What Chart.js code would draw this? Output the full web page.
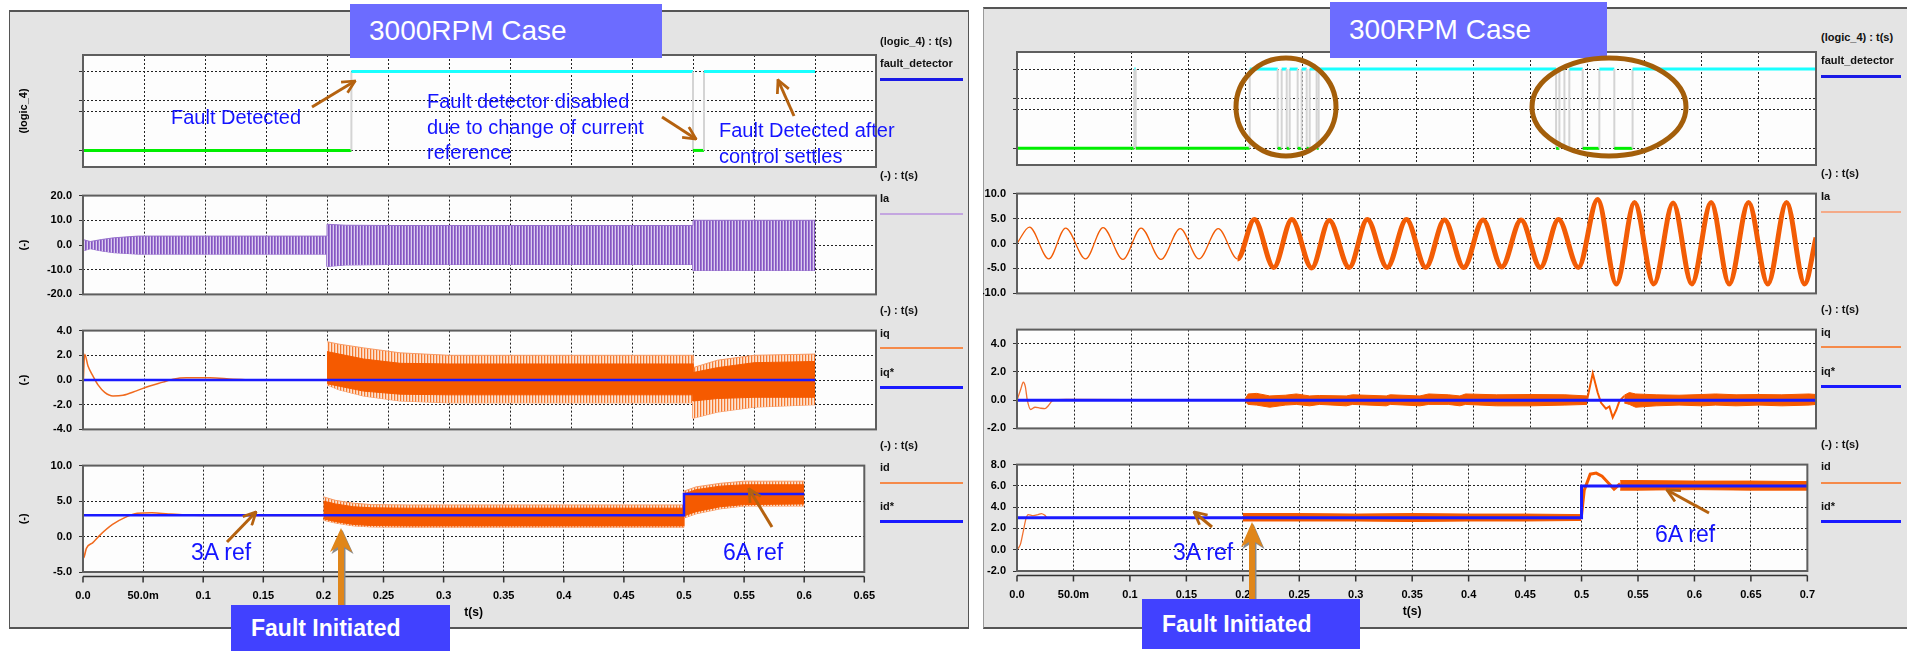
<!DOCTYPE html>
<html>
<head>
<meta charset="utf-8">
<script src="https://cdn.jsdelivr.net/npm/chart.js@4.4.1/dist/chart.umd.min.js"></script>
<style>
  html, body { margin: 0; padding: 0; background: #fff; }
  #stage { position: relative; width: 1907px; height: 651px; overflow: hidden; font-family: "Liberation Sans", Arial, sans-serif; }
  .panel { position: absolute; background: #e4e4e4; box-sizing: border-box; z-index: 0; }
  .lbl { position: absolute; font: bold 11px "Liberation Sans", Arial, sans-serif; color: #111; white-space: nowrap; line-height: 14px; z-index: 3; }
  .key { position: absolute; height: 0; z-index: 3; }
  .title { position: absolute; background: #6c6cff; color: #fff; font: 28px "Liberation Sans", Arial, sans-serif; box-sizing: border-box; display: flex; align-items: center; padding-left: 19px; z-index: 5; }
  .fi { position: absolute; background: #4141ff; color: #fff; font: bold 23px "Liberation Sans", Arial, sans-serif; box-sizing: border-box; display: flex; align-items: center; padding-left: 20px; z-index: 9; }
  #notes { position: absolute; left: 0; top: 0; z-index: 8; }
</style>
</head>
<body>
<div id="stage">
  <!-- khung hai panel -->
  <div class="panel" style="left:9px;top:10px;width:960px;height:619px;border:1px solid #555;border-top-width:2px;border-bottom-width:2px;"></div>
  <div class="panel" style="left:983px;top:7px;width:924px;height:622px;border-top:2px solid #555;border-bottom:2px solid #555;border-left:1px solid #999;"></div>

  <div class="title" style="left:350px;top:4px;width:312px;height:54px;">3000RPM Case</div>
  <div class="title" style="left:1330px;top:2px;width:277px;height:56px;">300RPM Case</div>

  <!-- nhãn bên phải, panel trái -->
  <div class="lbl" style="left:880px;top:34px">(logic_4) : t(s)</div>
  <div class="lbl" style="left:880px;top:56px">fault_detector</div>
  <div class="key" style="left:880px;top:78px;width:83px;border-top:3px solid #1a1ae6"></div>
  <div class="lbl" style="left:880px;top:168px">(-) : t(s)</div>
  <div class="lbl" style="left:880px;top:191px">Ia</div>
  <div class="key" style="left:880px;top:213px;width:83px;border-top:2px solid #c4a6e0"></div>
  <div class="lbl" style="left:880px;top:303px">(-) : t(s)</div>
  <div class="lbl" style="left:880px;top:326px">iq</div>
  <div class="key" style="left:880px;top:347px;width:83px;border-top:2px solid #f58a4a"></div>
  <div class="lbl" style="left:880px;top:365px">iq*</div>
  <div class="key" style="left:880px;top:386px;width:83px;border-top:3px solid #1a1aff"></div>
  <div class="lbl" style="left:880px;top:438px">(-) : t(s)</div>
  <div class="lbl" style="left:880px;top:460px">id</div>
  <div class="key" style="left:880px;top:482px;width:83px;border-top:2px solid #f58a4a"></div>
  <div class="lbl" style="left:880px;top:499px">id*</div>
  <div class="key" style="left:880px;top:520px;width:83px;border-top:3px solid #1a1aff"></div>

  <!-- nhãn bên phải, panel phải -->
  <div class="lbl" style="left:1821px;top:30px">(logic_4) : t(s)</div>
  <div class="lbl" style="left:1821px;top:53px">fault_detector</div>
  <div class="key" style="left:1821px;top:75px;width:80px;border-top:3px solid #1a1ae6"></div>
  <div class="lbl" style="left:1821px;top:166px">(-) : t(s)</div>
  <div class="lbl" style="left:1821px;top:189px">Ia</div>
  <div class="key" style="left:1821px;top:211px;width:80px;border-top:2px solid #f4aa88"></div>
  <div class="lbl" style="left:1821px;top:302px">(-) : t(s)</div>
  <div class="lbl" style="left:1821px;top:325px">iq</div>
  <div class="key" style="left:1821px;top:346px;width:80px;border-top:2px solid #f58a4a"></div>
  <div class="lbl" style="left:1821px;top:364px">iq*</div>
  <div class="key" style="left:1821px;top:385px;width:80px;border-top:3px solid #1a1aff"></div>
  <div class="lbl" style="left:1821px;top:437px">(-) : t(s)</div>
  <div class="lbl" style="left:1821px;top:459px">id</div>
  <div class="key" style="left:1821px;top:482px;width:80px;border-top:2px solid #f58a4a"></div>
  <div class="lbl" style="left:1821px;top:499px">id*</div>
  <div class="key" style="left:1821px;top:520px;width:80px;border-top:3px solid #1a1aff"></div>

  <div class="fi" style="left:231px;top:605px;width:219px;height:46px;">Fault Initiated</div>
  <div class="fi" style="left:1142px;top:599px;width:218px;height:50px;">Fault Initiated</div>

  <!-- chú thích, mũi tên -->
  <svg id="notes" width="1907" height="651" viewBox="0 0 1907 651">
    <defs>
      <marker id="ah" viewBox="0 0 12 12" refX="11" refY="6" markerWidth="15" markerHeight="15" markerUnits="userSpaceOnUse" orient="auto">
        <path d="M1,1 L11,6 L1,11" fill="none" stroke="#b5620f" stroke-width="2.2"/>
      </marker>
    </defs>
    <g fill="#1414ff" font-family="Liberation Sans, Arial, sans-serif" font-size="20">
      <text x="171" y="124">Fault Detected</text>
      <text x="427" y="108">Fault detector disabled</text>
      <text x="427" y="134">due to change of current</text>
      <text x="427" y="159">reference</text>
      <text x="719" y="137">Fault Detected after</text>
      <text x="719" y="163">control settles</text>
      <text x="191" y="560" font-size="23">3A ref</text>
      <text x="723" y="560" font-size="23">6A ref</text>
      <text x="1173" y="560" font-size="23">3A ref</text>
      <text x="1655" y="542" font-size="23">6A ref</text>
    </g>
    <g stroke="#b5620f" stroke-width="3" marker-end="url(#ah)">
      <line x1="312" y1="107" x2="355" y2="81"/>
      <line x1="662" y1="117" x2="696" y2="139"/>
      <line x1="794" y1="116" x2="778" y2="80"/>
      <line x1="227" y1="542" x2="256" y2="512"/>
      <line x1="772" y1="527" x2="749" y2="489"/>
      <line x1="1212" y1="527" x2="1194" y2="512"/>
      <line x1="1709" y1="513" x2="1667" y2="490"/>
    </g>
    <g fill="none" stroke="#a35e0a" stroke-width="5">
      <ellipse cx="1286" cy="107" rx="50" ry="49"/>
      <ellipse cx="1609" cy="107" rx="77" ry="49"/>
    </g>
    <!-- mũi tên Fault Initiated -->
    <polygon points="342.5,530 353.5,554 345.5,549 345.5,605 339.5,605 339.5,549 331.5,554" fill="#8a8a8a"/>
    <polygon points="341,528 352,552 344,547 344,605 338,605 338,547 330,552" fill="#e0861a"/>
    <polygon points="1253.5,524 1264.5,549 1256.5,544 1256.5,599 1250.5,599 1250.5,544 1242.5,549" fill="#8a8a8a"/>
    <polygon points="1252,522 1263,547 1255,542 1255,599 1249,599 1249,542 1241,547" fill="#e0861a"/>
  </svg>
</div>

<script>
// ===== DỮ LIỆU =====
const xTicks3000 = [0, 0.05, 0.1, 0.15, 0.2, 0.25, 0.3, 0.35, 0.4, 0.45, 0.5, 0.55, 0.6, 0.65];
const xLabels3000 = ['0.0', '50.0m', '0.1', '0.15', '0.2', '0.25', '0.3', '0.35', '0.4', '0.45', '0.5', '0.55', '0.6', '0.65'];
const xTicks300 = [0, 0.05, 0.1, 0.15, 0.2, 0.25, 0.3, 0.35, 0.4, 0.45, 0.5, 0.55, 0.6, 0.65, 0.7];
const xLabels300 = ['0.0', '50.0m', '0.1', '0.15', '0.2', '0.25', '0.3', '0.35', '0.4', '0.45', '0.5', '0.55', '0.6', '0.65', '0.7'];

const logicTicks = [0, 0.49, 0.63, 1];
const yTicksIa3000 = [-20, -10, 0, 10, 20];
const yTicksIq3000 = [-4, -2, 0, 2, 4];
const yTicksId3000 = [-5, 0, 5, 10];
const yTicksIa300 = [-10, -5, 0, 5, 10];
const yTicksIq300 = [-2, 0, 2, 4];
const yTicksId300 = [-2, 0, 2, 4, 6, 8];

// fault_detector: thời điểm đổi trạng thái (bắt đầu ở 0)
const fdSwitch3000 = [0.22, 0.5, 0.509];
const fdEnd3000 = 0.6;
const fdSwitch300 = [0.1028, 0.1040, 0.2039, 0.2284, 0.2319, 0.2363, 0.2389, 0.2459, 0.2494, 0.2538, 0.2564,
  0.2625, 0.2643, 0.4723, 0.4752, 0.4796, 0.4839, 0.4956, 0.5102, 0.5233, 0.5393];
const fdEnd300 = 0.7;

// --- 3000RPM ---
// Ia: đường bao trên / dưới
const ia3000T  = [0, 0.006, 0.015, 0.025, 0.045, 0.2, 0.2, 0.215, 0.25, 0.5, 0.5, 0.6];
const ia3000Hi = [2.2, 1.4, 2.2, 2.9, 3.6, 3.6, 8.4, 8.0, 7.9, 7.9, 10.0, 10.0];
const ia3000Lo = [-2.4, -1.5, -2.4, -3.1, -3.7, -3.7, -8.7, -8.1, -7.9, -7.9, -10.3, -10.3];

// iq trước sự cố
const iq3000T = [0, 0.0014, 0.0041, 0.0082, 0.0123, 0.0178, 0.0246, 0.0328, 0.0438, 0.0547, 0.0656, 0.0738, 0.0848, 0.104, 0.123, 0.145, 0.2];
const iq3000V = [-0.76, 2.09, 1.14, 0.31, -0.40, -1.0, -1.29, -1.24, -0.88, -0.48, -0.17, 0.07, 0.19, 0.19, 0.07, 0.0, 0.0];
// iq sau sự cố: dải dao động
const iq3000BandT  = [0.2, 0.21, 0.23, 0.26, 0.3, 0.5, 0.5, 0.52, 0.55, 0.6];
const iq3000OutHi  = [3.1, 2.9, 2.6, 2.2, 2.0, 2.0, 1.0, 1.6, 2.0, 2.1];
const iq3000OutLo  = [-0.4, -0.8, -1.3, -1.7, -1.85, -1.85, -3.1, -2.6, -2.2, -2.0];
const iq3000CoreHi = [2.3, 2.1, 1.7, 1.35, 1.3, 1.3, 0.6, 1.0, 1.4, 1.5];
const iq3000CoreLo = [-0.3, -0.5, -0.9, -1.15, -1.2, -1.2, -1.7, -1.5, -1.4, -1.4];
const iqRef3000T = [0, 0.6];
const iqRef3000V = [0, 0];

// id
const id3000T = [0, 0.0006, 0.0028, 0.0082, 0.0137, 0.0246, 0.0356, 0.0451, 0.0574, 0.0711, 0.0848, 0.12, 0.2];
const id3000V = [-0.1, -3.0, -1.67, -0.86, 0.13, 1.7, 2.73, 3.27, 3.36, 3.18, 3.04, 2.95, 2.95];
const id3000BandT  = [0.2, 0.21, 0.225, 0.24, 0.27, 0.5, 0.5, 0.51, 0.53, 0.55, 0.6];
const id3000OutHi  = [5.6, 5.1, 4.7, 4.5, 4.45, 4.45, 6.4, 7.0, 7.5, 7.8, 7.8];
const id3000OutLo  = [2.3, 1.9, 1.5, 1.35, 1.3, 1.3, 2.6, 3.2, 3.9, 4.3, 4.3];
const id3000CoreHi = [5.0, 4.6, 4.2, 4.05, 4.0, 4.0, 6.0, 6.6, 7.1, 7.3, 7.3];
const id3000CoreLo = [2.5, 2.1, 1.7, 1.55, 1.5, 1.5, 2.9, 3.5, 4.2, 4.5, 4.6];
const idRef3000T = [0, 0.5, 0.5, 0.6];
const idRef3000V = [3, 3, 6, 6];

// --- 300RPM ---
// Ia: các đỉnh / đáy của sóng sin
const ia300T = [0, 0.0109, 0.0278, 0.0426, 0.0601, 0.0754, 0.0928, 0.1087, 0.1261, 0.1430, 0.1594, 0.1763, 0.1932,
  0.2080, 0.2249, 0.2408, 0.2582, 0.2736, 0.2910, 0.3069, 0.3243, 0.3412, 0.3581, 0.3745, 0.3914, 0.4083, 0.4247,
  0.4416, 0.4585, 0.4744, 0.4918, 0.5087, 0.5251, 0.5410, 0.5579, 0.5748, 0.5912, 0.6081, 0.6240, 0.6409, 0.6578,
  0.6742, 0.6900, 0.7];
const ia300V = [0, 3.3, -3.1, 3.1, -3.1, 3.2, -3.2, 3.1, -3.2, 3.0, -3.1, 3.0, -3.1,
  4.8, -4.8, 4.8, -4.9, 4.6, -4.8, 4.8, -4.8, 4.8, -4.8, 4.7, -4.8, 4.7, -4.7,
  4.7, -4.8, 4.8, -4.8, 8.8, -8.1, 8.2, -8.1, 8.1, -8.1, 8.2, -8.1, 8.2, -8.1,
  8.2, -8.1, 1.2];

// iq
const iq300T = [0, 0.0032, 0.0055, 0.0073, 0.009, 0.012, 0.0158, 0.0201, 0.0245, 0.0274, 0.0312, 0.043, 0.2];
const iq300V = [0, 0.75, 1.27, 0.96, 0.02, -0.66, -0.5, -0.56, -0.6, -0.39, -0.04, 0.05, 0.0];
const iq300BandT1 = [0.2, 0.2025, 0.21, 0.2214, 0.235, 0.2447, 0.2564, 0.265, 0.2885, 0.294, 0.3235, 0.327, 0.353, 0.3607, 0.378, 0.388, 0.393, 0.42, 0.45, 0.48, 0.4994];
const iq300Hi1 = [0.1, 0.44, 0.48, 0.3, 0.35, 0.44, 0.3, 0.33, 0.3, 0.38, 0.3, 0.38, 0.3, 0.44, 0.38, 0.3, 0.44, 0.38, 0.4, 0.38, 0.3];
const iq300Lo1 = [-0.1, -0.3, -0.35, -0.5, -0.35, -0.3, -0.4, -0.3, -0.4, -0.3, -0.4, -0.3, -0.4, -0.3, -0.3, -0.4, -0.3, -0.4, -0.4, -0.35, -0.3];
const iq300SpikeT = [0.4994, 0.5044, 0.5087, 0.5117, 0.516, 0.519, 0.5219, 0.525, 0.5277, 0.532];
const iq300SpikeV = [0.0, 1.9, 0.54, -0.19, -0.6, -0.45, -1.23, -0.7, -0.08, 0.3];
const iq300BandT2 = [0.532, 0.5365, 0.542, 0.56, 0.58, 0.6, 0.612, 0.63, 0.65, 0.67, 0.694, 0.7];
const iq300Hi2 = [0.35, 0.54, 0.44, 0.38, 0.35, 0.4, 0.44, 0.38, 0.4, 0.38, 0.44, 0.4];
const iq300Lo2 = [-0.2, -0.3, -0.5, -0.4, -0.35, -0.4, -0.35, -0.4, -0.35, -0.4, -0.35, -0.3];
const iqRef300T = [0, 0.7];
const iqRef300V = [0, 0];

// id
const id300T = [0, 0.003, 0.0055, 0.0079, 0.0099, 0.0143, 0.0187, 0.0216, 0.0245, 0.0274, 0.0318, 0.2];
const id300V = [0, 0.5, 1.7, 2.9, 3.3, 3.2, 3.3, 3.4, 3.25, 2.96, 2.96, 2.96];
const id300BandT1 = [0.2, 0.25, 0.3, 0.35, 0.4, 0.45, 0.4998];
const id300Hi1 = [3.4, 3.4, 3.35, 3.4, 3.35, 3.35, 3.3];
const id300Lo1 = [2.7, 2.7, 2.7, 2.65, 2.7, 2.7, 2.75];
const id300StepT = [0.4998, 0.5024, 0.5077, 0.513, 0.5182, 0.5236, 0.5288, 0.5342];
const id300StepV = [3.05, 5.6, 7.1, 7.2, 6.9, 6.3, 5.7, 6.2];
const id300BandT2 = [0.5342, 0.55, 0.6, 0.65, 0.7];
const id300Hi2 = [6.5, 6.5, 6.45, 6.45, 6.4];
const id300Lo2 = [5.6, 5.6, 5.65, 5.6, 5.6];
const idRef300T = [0, 0.5, 0.5, 0.7];
const idRef300V = [3, 3, 6, 6];

// ===== HÀM TIỆN ÍCH =====
const stage = document.getElementById('stage');
Chart.defaults.font.family = '"Liberation Sans", Arial, sans-serif';
Chart.defaults.color = '#000';

const BLUE = '#1a1aff';
const ORANGE = '#f55a00';

const pts = (T, V) => T.map((t, i) => ({ x: t, y: V[i] }));

// tín hiệu logic dạng bậc thang
function stepPts(sw, end) {
  const p = [{ x: 0, y: 0 }];
  let lvl = 0;
  sw.forEach(t => { p.push({ x: t, y: lvl }); lvl = 1 - lvl; p.push({ x: t, y: lvl }); });
  p.push({ x: end, y: lvl });
  return p;
}

// vân sọc dọc cho dải dao động dày
function stripes(colors) {
  const c = document.createElement('canvas');
  c.width = colors.length; c.height = 1;
  const g = c.getContext('2d');
  colors.forEach((col, i) => { g.fillStyle = col; g.fillRect(i, 0, 1, 1); });
  return g.createPattern(c, 'repeat');
}
const patPurple = stripes(['#8456c2', '#a07ad2', '#dccdf0']);
const patOrange = stripes(['#f57a30', '#fcc9a8', '#fde3d2']);

function line(data, color, width, order, extra) {
  return Object.assign({ data, borderColor: color, borderWidth: width, pointRadius: 0, fill: false, order }, extra || {});
}
function band(T, hi, lo, fillStyle, edge, order) {
  return [
    { data: pts(T, hi), borderColor: edge, borderWidth: 1, pointRadius: 0, fill: '+1', backgroundColor: fillStyle, order },
    { data: pts(T, lo), borderColor: edge, borderWidth: 1, pointRadius: 0, fill: false, order }
  ];
}
function logicSet(sw, end) {
  return {
    data: stepPts(sw, end), pointRadius: 0, fill: false, borderWidth: 3,
    segment: {
      borderColor: c => c.p0.parsed.y !== c.p1.parsed.y ? '#d4d4d4' : (c.p0.parsed.y ? '#19ffff' : '#00ee00'),
      borderWidth: c => c.p0.parsed.y !== c.p1.parsed.y ? 2 : 3
    }
  };
}

// nền trắng + khung ô đồ thị + trục thời gian tách rời ở đáy
const framePlugin = {
  id: 'frame',
  beforeDraw(chart) {
    const { ctx, chartArea: a } = chart;
    ctx.save();
    ctx.fillStyle = '#fdfdfd';
    ctx.fillRect(a.left, a.top, a.width, a.height);
    ctx.restore();
  },
  afterDraw(chart, args, opts) {
    const { ctx, chartArea: a } = chart;
    ctx.save();
    ctx.strokeStyle = '#5e5e5e';
    ctx.lineWidth = 2;
    ctx.strokeRect(a.left, a.top, a.width, a.height);
    if (opts.axisLine) {
      const y = a.bottom + 4.5;
      const sx = chart.scales.x;
      ctx.strokeStyle = '#333';
      ctx.lineWidth = 1.5;
      ctx.beginPath();
      ctx.moveTo(a.left, y); ctx.lineTo(a.right, y);
      sx.ticks.forEach(t => { const x = sx.getPixelForValue(t.value); ctx.moveTo(x, y); ctx.lineTo(x, y + 6); });
      ctx.stroke();
    }
    ctx.restore();
  }
};

function plotOptions(o) {
  return {
    responsive: false, animation: false, events: [],
    layout: { autoPadding: false, padding: { left: 0, right: 16, top: 8, bottom: o.bottom ? 0 : 6 } },
    plugins: { legend: { display: false }, tooltip: { enabled: false }, frame: { axisLine: !!o.bottom } },
    scales: {
      x: {
        type: 'linear', min: 0, max: o.xTicks[o.xTicks.length - 1],
        afterBuildTicks: s => { s.ticks = o.xTicks.map(v => ({ value: v })); },
        afterFit: s => { s.height = o.bottom ? 50 : 0; },
        grid: { color: '#222', lineWidth: 1, drawTicks: false },
        border: { display: false, dash: [2, 2] },
        ticks: {
          display: !!o.bottom, autoSkip: false, maxRotation: 0, padding: 17,
          font: { size: 11, weight: 'bold' }, callback: (v, i) => o.xLabels[i]
        },
        title: { display: !!o.bottom, text: 't(s)', font: { size: 12, weight: 'bold' }, padding: { top: 0, bottom: 2 } }
      },
      y: {
        min: o.ymin, max: o.ymax,
        afterBuildTicks: s => { s.ticks = o.yTicks.map(v => ({ value: v })); },
        afterFit: s => { s.width = o.yw; },
        grid: { color: '#222', lineWidth: 1, drawTicks: true, tickLength: 4, tickColor: '#333', tickBorderDash: [] },
        border: { display: false, dash: [2, 2] },
        ticks: { display: !o.noLabels, padding: 7, font: { size: 11, weight: 'bold' }, callback: v => v.toFixed(1) },
        title: { display: !!o.yTitle, text: o.yTitle || '', font: { size: 11, weight: 'bold' }, padding: { top: 4, bottom: 0 } }
      }
    }
  };
}

function addPlot(rect, datasets, o) {
  const W = o.yw + rect.w + 16;
  const H = 8 + rect.h + (o.bottom ? 50 : 6);
  const c = document.createElement('canvas');
  c.width = W; c.height = H;
  c.style.cssText = `position:absolute;left:${rect.x - o.yw}px;top:${rect.y - 8}px;width:${W}px;height:${H}px;z-index:2;`;
  stage.appendChild(c);
  new Chart(c, { type: 'line', data: { datasets }, options: plotOptions(o), plugins: [framePlugin] });
}

// ===== PANEL TRÁI: 3000RPM =====
const L = { x: 83, w: 793 };
const left = { xTicks: xTicks3000, xLabels: xLabels3000, yw: 70 };

addPlot({ ...L, y: 55, h: 112 }, [logicSet(fdSwitch3000, fdEnd3000)],
  { ...left, ymin: -0.21, ymax: 1.21, yTicks: logicTicks, noLabels: true, yTitle: '(logic_4)' });

addPlot({ ...L, y: 190, h: 112 }, [...band(ia3000T, ia3000Hi, ia3000Lo, patPurple, '#9670cc', 1)],
  { ...left, ymin: -20, ymax: 20, yTicks: yTicksIa3000, yTitle: '(-)' });

addPlot({ ...L, y: 325, h: 112 }, [
  line(pts(iqRef3000T, iqRef3000V), BLUE, 2.5, 0),
  line(pts(iq3000T, iq3000V), '#f06a1e', 1.5, 1, { cubicInterpolationMode: 'monotone' }),
  ...band(iq3000BandT, iq3000CoreHi, iq3000CoreLo, ORANGE, ORANGE, 2),
  ...band(iq3000BandT, iq3000OutHi, iq3000OutLo, patOrange, '#f79a66', 3)
], { ...left, ymin: -4, ymax: 4, yTicks: yTicksIq3000, yTitle: '(-)' });

addPlot({ ...L, y: 460, h: 112 }, [
  line(pts(idRef3000T, idRef3000V), BLUE, 2.5, 0),
  line(pts(id3000T, id3000V), '#f06a1e', 1.5, 1, { cubicInterpolationMode: 'monotone' }),
  ...band(id3000BandT, id3000CoreHi, id3000CoreLo, ORANGE, ORANGE, 2),
  ...band(id3000BandT, id3000OutHi, id3000OutLo, patOrange, '#f79a66', 3)
], { ...left, ymin: -5, ymax: 10, yTicks: yTicksId3000, yTitle: '(-)', bottom: true });

// ===== PANEL PHẢI: 300RPM =====
const R = { x: 1017, w: 799 };
const right = { xTicks: xTicks300, xLabels: xLabels300, yw: 34 };

addPlot({ ...R, y: 52, h: 113 }, [logicSet(fdSwitch300, fdEnd300)],
  { ...right, ymin: -0.21, ymax: 1.215, yTicks: logicTicks, noLabels: true });

addPlot({ ...R, y: 188, h: 113 }, [
  line(pts(ia300T, ia300V), '#f25c05', 1.3, 1, {
    cubicInterpolationMode: 'monotone',
    segment: { borderWidth: c => c.p1.parsed.x > 0.2 ? 5 : 1.3 }
  })
], { ...right, ymin: -10, ymax: 10, yTicks: yTicksIa300 });

addPlot({ ...R, y: 324, h: 112 }, [
  line(pts(iqRef300T, iqRef300V), BLUE, 3, 0),
  line(pts(iq300T, iq300V), '#f07030', 1.3, 1, { cubicInterpolationMode: 'monotone' }),
  line(pts(iq300SpikeT, iq300SpikeV), ORANGE, 2, 1),
  ...band(iq300BandT1, iq300Hi1, iq300Lo1, ORANGE, ORANGE, 2),
  ...band(iq300BandT2, iq300Hi2, iq300Lo2, ORANGE, ORANGE, 2)
], { ...right, ymin: -2, ymax: 5, yTicks: yTicksIq300 });

addPlot({ ...R, y: 459, h: 112 }, [
  line(pts(idRef300T, idRef300V), BLUE, 3, 0),
  line(pts(id300T, id300V), '#f07030', 1.3, 1, { cubicInterpolationMode: 'monotone' }),
  line(pts(id300StepT, id300StepV), ORANGE, 3, 1),
  ...band(id300BandT1, id300Hi1, id300Lo1, ORANGE, ORANGE, 2),
  ...band(id300BandT2, id300Hi2, id300Lo2, ORANGE, ORANGE, 2)
], { ...right, ymin: -2, ymax: 8, yTicks: yTicksId300, bottom: true });
</script>
</body>
</html>
